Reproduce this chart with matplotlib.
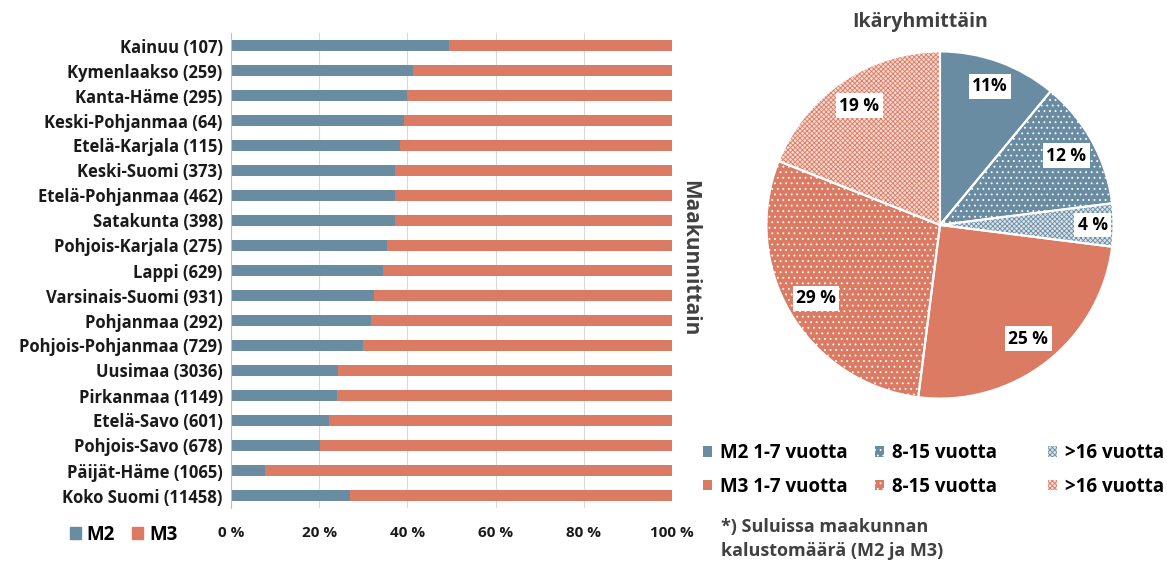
import matplotlib.pyplot as plt
from matplotlib.patches import Patch
import numpy as np

plt.rcParams['font.family'] = ['Open Sans', 'DejaVu Sans']
plt.rcParams['font.weight'] = 'bold'
plt.rcParams['hatch.linewidth'] = 0.6

# share of M2 / M3 vehicles by region (%), count in brackets
regions = ['Kainuu (107)', 'Kymenlaakso (259)', 'Kanta-Häme (295)',
           'Keski-Pohjanmaa (64)', 'Etelä-Karjala (115)', 'Keski-Suomi (373)',
           'Etelä-Pohjanmaa (462)', 'Satakunta (398)', 'Pohjois-Karjala (275)',
           'Lappi (629)', 'Varsinais-Suomi (931)', 'Pohjanmaa (292)',
           'Pohjois-Pohjanmaa (729)', 'Uusimaa (3036)', 'Pirkanmaa (1149)',
           'Etelä-Savo (601)', 'Pohjois-Savo (678)', 'Päijät-Häme (1065)',
           'Koko Suomi (11458)']
m2_share = [49.4, 41.3, 40.0, 39.2, 38.3, 37.2, 37.2, 37.1, 35.3, 34.4,
            32.5, 31.8, 29.9, 24.2, 24.0, 22.3, 20.2, 7.8, 26.9]
m3_share = [50.6, 58.7, 60.0, 60.8, 61.7, 62.8, 62.8, 62.9, 64.7, 65.6,
            67.5, 68.2, 70.1, 75.8, 76.0, 77.7, 79.8, 92.2, 73.1]
pct_ticks = [0, 20, 40, 60, 80, 100]

# age groups
age_labels = ['M2 1-7 vuotta', '8-15 vuotta', '>16 vuotta',
              'M3 1-7 vuotta', '8-15 vuotta', '>16 vuotta']
age_share = [11, 12, 4, 25, 29, 19]

blue = '#6a8ca3'
orange = '#dc7b63'
light_blue = '#dbe4ea'
light_orange = '#f6d9d1'
text_col = '#1a1a1a'

W, H = 1167, 569
fig = plt.figure(figsize=(W / 100, H / 100), dpi=100)

# ---- stacked bars ----
ax = fig.add_axes([231 / W, (H - 508) / H, 441 / W, 475 / H])
y = np.arange(len(regions))
ax.barh(y, m2_share, height=0.45, color=blue, label='M2')
ax.barh(y, m3_share, left=m2_share, height=0.45, color=orange, label='M3')
ax.set_ylim(len(regions) - 0.5, -0.5)
ax.set_xlim(0, 100)
ax.set_yticks(y)
ax.set_yticklabels(regions, fontsize=12, color=text_col)
ax.set_xticks(pct_ticks)
ax.set_xticklabels(['%d %%' % p for p in pct_ticks], fontsize=11, color=text_col)
ax.tick_params(length=0)
ax.tick_params(axis='y', pad=6)
ax.tick_params(axis='x', pad=13)
ax.grid(axis='x', color='#d9d9d9', lw=0.8)
ax.set_axisbelow(True)
for s in ['top', 'right', 'bottom']:
    ax.spines[s].set_visible(False)
ax.spines['left'].set_color('#bfbfbf')
ax.text(690 / W, 1 - 258 / H, 'Maakunnittain', transform=fig.transFigure,
        rotation=270, ha='center', va='center', fontsize=15, color='#404040')

fig.legend(handles=[Patch(color=blue, label='M2'), Patch(color=orange, label='M3')],
           loc='center left', bbox_to_anchor=(70 / W, 1 - 535 / H), ncol=2,
           frameon=False, fontsize=13.5, handlelength=0.6, handleheight=0.6,
           handletextpad=0.3, columnspacing=0.9, borderpad=0, borderaxespad=0)

# ---- pie ----
cx, cy, r = 940, 225, 177
pax = fig.add_axes([(cx - r) / W, (H - cy - r) / H, 2 * r / W, 2 * r / H])
faces = [blue, blue, light_blue, orange, orange, light_orange]
hatch_col = [blue, 'white', blue, orange, 'white', orange]
hatches = [None, '...', 'xxxxxxx', None, '...', 'xxxxxxx']
wedges, _ = pax.pie(age_share, startangle=90, counterclock=False, radius=1,
                    colors=faces, wedgeprops=dict(linewidth=0))
for w, hc, h in zip(wedges, hatch_col, hatches):
    w.set_edgecolor(hc)
    w.set_hatch(h)
# white separators on top
pax.pie(age_share, startangle=90, counterclock=False, radius=1,
        wedgeprops=dict(fill=False, edgecolor='white', linewidth=1.5))
pax.set_xlim(-1.02, 1.02)
pax.set_ylim(-1.02, 1.02)

label_r = [0.85, 0.83, 0.88, 0.83, 0.83, 0.83]
for i, (w, v) in enumerate(zip(wedges, age_share)):
    ang = np.deg2rad((w.theta1 + w.theta2) / 2)
    txt = f'{v}%' if i == 0 else f'{v} %'
    pax.text(label_r[i] * np.cos(ang), label_r[i] * np.sin(ang), txt,
             ha='center', va='center', fontsize=12.5, color='black',
             bbox=dict(facecolor='white', edgecolor='none', pad=2.5))

fig.text(920 / W, 1 - 22 / H, 'Ikäryhmittäin', ha='center', va='center',
         fontsize=14, color='#404040')

# legend in three columns, two rows
col_x = [703, 875, 1048]
for c in range(3):
    hs = []
    for row in range(2):
        k = row * 3 + c
        hs.append(Patch(facecolor=faces[k], edgecolor=hatch_col[k],
                        hatch=hatches[k], lw=0, label=age_labels[k]))
    fig.legend(handles=hs, loc='center left',
               bbox_to_anchor=(col_x[c] / W, 1 - 470 / H), ncol=1,
               frameon=False, fontsize=13.5, handlelength=0.5, handleheight=0.5,
               handletextpad=0.4, labelspacing=0.72, labelcolor='black',
               borderpad=0, borderaxespad=0)

fig.text(721 / W, 1 - 539 / H, '*) Suluissa maakunnan\nkalustomäärä (M2 ja M3)',
         ha='left', va='center', fontsize=13, color='#404040', linespacing=1.45)

fig.savefig('out.png', dpi=100)
